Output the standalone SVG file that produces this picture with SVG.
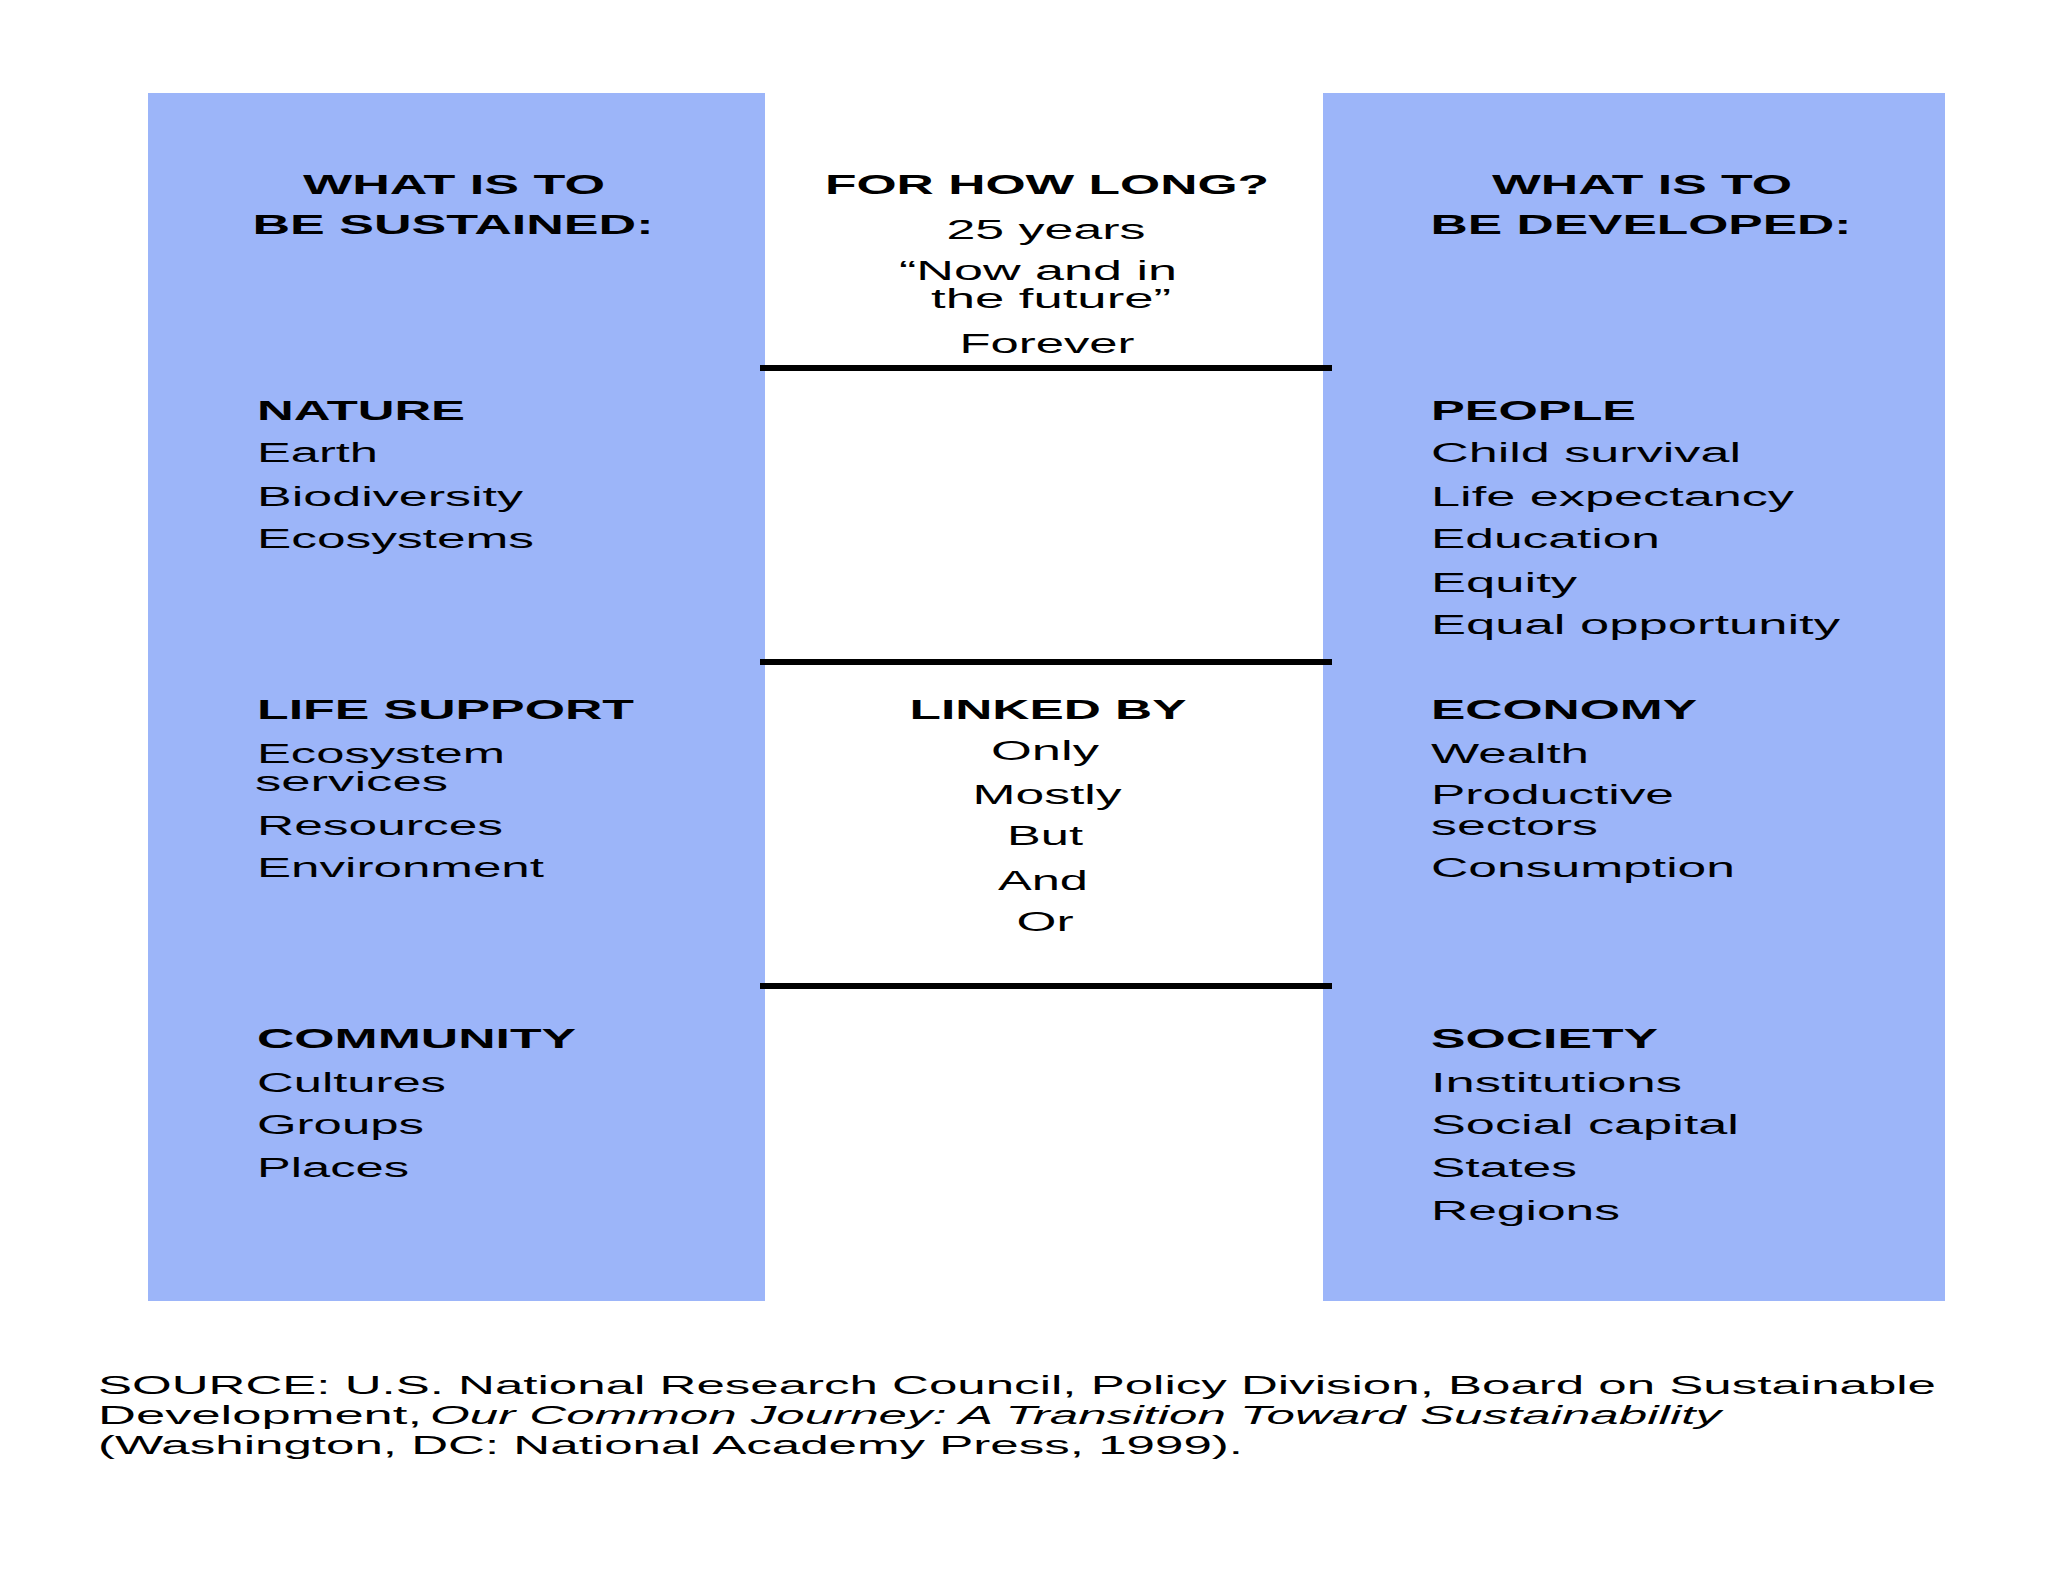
<svg xmlns="http://www.w3.org/2000/svg" width="2048" height="1582" viewBox="0 0 2048 1582">
<style>
  text { font-family: "Liberation Sans", Arial, sans-serif; fill: #000; }
  .h { font-size: 27px; font-weight: bold; }
  .t { font-size: 27px; }
  .c { text-anchor: middle; }
  .s { font-size: 25px; }
  .i { font-style: italic; }
  .panel { fill: #9cb5f9; }
  .div { stroke: #000; stroke-width: 6; }
</style>
<rect width="2048" height="1582" fill="#ffffff"/>

<g id="left-panel">
  <rect class="panel" x="148" y="93" width="617" height="1208"/>
  <text class="h c" x="454" y="194" textLength="302" lengthAdjust="spacingAndGlyphs">WHAT IS TO</text>
  <text class="h c" x="453" y="234" textLength="401" lengthAdjust="spacingAndGlyphs">BE SUSTAINED:</text>
  <g id="nature">
    <text class="h" x="257" y="420" textLength="208" lengthAdjust="spacingAndGlyphs">NATURE</text>
    <text class="t" x="257" y="462" textLength="121" lengthAdjust="spacingAndGlyphs">Earth</text>
    <text class="t" x="257" y="506" textLength="266" lengthAdjust="spacingAndGlyphs">Biodiversity</text>
    <text class="t" x="257" y="548" textLength="277" lengthAdjust="spacingAndGlyphs">Ecosystems</text>
  </g>
  <g id="life-support">
    <text class="h" x="257" y="719" textLength="377" lengthAdjust="spacingAndGlyphs">LIFE SUPPORT</text>
    <text class="t" x="257" y="763" textLength="248" lengthAdjust="spacingAndGlyphs">Ecosystem</text>
    <text class="t" x="255" y="791" textLength="193" lengthAdjust="spacingAndGlyphs">services</text>
    <text class="t" x="257" y="835" textLength="246" lengthAdjust="spacingAndGlyphs">Resources</text>
    <text class="t" x="257" y="877" textLength="287" lengthAdjust="spacingAndGlyphs">Environment</text>
  </g>
  <g id="community">
    <text class="h" x="257" y="1048" textLength="319" lengthAdjust="spacingAndGlyphs">COMMUNITY</text>
    <text class="t" x="257" y="1092" textLength="189" lengthAdjust="spacingAndGlyphs">Cultures</text>
    <text class="t" x="257" y="1134" textLength="167" lengthAdjust="spacingAndGlyphs">Groups</text>
    <text class="t" x="257" y="1177" textLength="152" lengthAdjust="spacingAndGlyphs">Places</text>
  </g>
</g>

<g id="right-panel">
  <rect class="panel" x="1323" y="93" width="622" height="1208"/>
  <text class="h c" x="1642" y="194" textLength="300" lengthAdjust="spacingAndGlyphs">WHAT IS TO</text>
  <text class="h c" x="1641" y="234" textLength="421" lengthAdjust="spacingAndGlyphs">BE DEVELOPED:</text>
  <g id="people">
    <text class="h" x="1431" y="420" textLength="205" lengthAdjust="spacingAndGlyphs">PEOPLE</text>
    <text class="t" x="1431" y="462" textLength="310" lengthAdjust="spacingAndGlyphs">Child survival</text>
    <text class="t" x="1431" y="506" textLength="363" lengthAdjust="spacingAndGlyphs">Life expectancy</text>
    <text class="t" x="1431" y="548" textLength="229" lengthAdjust="spacingAndGlyphs">Education</text>
    <text class="t" x="1431" y="592" textLength="146" lengthAdjust="spacingAndGlyphs">Equity</text>
    <text class="t" x="1431" y="634" textLength="409" lengthAdjust="spacingAndGlyphs">Equal opportunity</text>
  </g>
  <g id="economy">
    <text class="h" x="1431" y="719" textLength="266" lengthAdjust="spacingAndGlyphs">ECONOMY</text>
    <text class="t" x="1431" y="763" textLength="158" lengthAdjust="spacingAndGlyphs">Wealth</text>
    <text class="t" x="1431" y="804" textLength="243" lengthAdjust="spacingAndGlyphs">Productive</text>
    <text class="t" x="1431" y="835" textLength="167" lengthAdjust="spacingAndGlyphs">sectors</text>
    <text class="t" x="1431" y="877" textLength="304" lengthAdjust="spacingAndGlyphs">Consumption</text>
  </g>
  <g id="society">
    <text class="h" x="1431" y="1048" textLength="227" lengthAdjust="spacingAndGlyphs">SOCIETY</text>
    <text class="t" x="1431" y="1092" textLength="251" lengthAdjust="spacingAndGlyphs">Institutions</text>
    <text class="t" x="1431" y="1134" textLength="308" lengthAdjust="spacingAndGlyphs">Social capital</text>
    <text class="t" x="1431" y="1177" textLength="146" lengthAdjust="spacingAndGlyphs">States</text>
    <text class="t" x="1431" y="1220" textLength="189" lengthAdjust="spacingAndGlyphs">Regions</text>
  </g>
</g>

<g id="for-how-long">
  <text class="h c" x="1047" y="194" textLength="444" lengthAdjust="spacingAndGlyphs">FOR HOW LONG?</text>
  <text class="t c" x="1046" y="239" textLength="199" lengthAdjust="spacingAndGlyphs">25 years</text>
  <text class="t c" x="1038" y="280" textLength="278" lengthAdjust="spacingAndGlyphs">“Now and in</text>
  <text class="t c" x="1051" y="308" textLength="240" lengthAdjust="spacingAndGlyphs">the future”</text>
  <text class="t c" x="1047" y="353" textLength="175" lengthAdjust="spacingAndGlyphs">Forever</text>
</g>

<g id="linked-by">
  <text class="h c" x="1048" y="719" textLength="277" lengthAdjust="spacingAndGlyphs">LINKED BY</text>
  <text class="t c" x="1045" y="760" textLength="108" lengthAdjust="spacingAndGlyphs">Only</text>
  <text class="t c" x="1047" y="804" textLength="149" lengthAdjust="spacingAndGlyphs">Mostly</text>
  <text class="t c" x="1045" y="845" textLength="76" lengthAdjust="spacingAndGlyphs">But</text>
  <text class="t c" x="1043" y="890" textLength="90" lengthAdjust="spacingAndGlyphs">And</text>
  <text class="t c" x="1045" y="931" textLength="57" lengthAdjust="spacingAndGlyphs">Or</text>
</g>

<g id="connectors">
  <line class="div" x1="760" y1="368" x2="1332" y2="368"/>
  <line class="div" x1="760" y1="662" x2="1332" y2="662"/>
  <line class="div" x1="760" y1="986" x2="1332" y2="986"/>
</g>

<g id="source">
  <text class="s" x="98" y="1394" textLength="1838" lengthAdjust="spacingAndGlyphs">SOURCE: U.S. National Research Council, Policy Division, Board on Sustainable</text>
  <text class="s" x="98" y="1424" textLength="324" lengthAdjust="spacingAndGlyphs">Development,</text>
  <text class="s i" x="430" y="1424" textLength="1291" lengthAdjust="spacingAndGlyphs">Our Common Journey: A Transition Toward Sustainability</text>
  <text class="s" x="98" y="1454" textLength="1145" lengthAdjust="spacingAndGlyphs">(Washington, DC: National Academy Press, 1999).</text>
</g>
</svg>
